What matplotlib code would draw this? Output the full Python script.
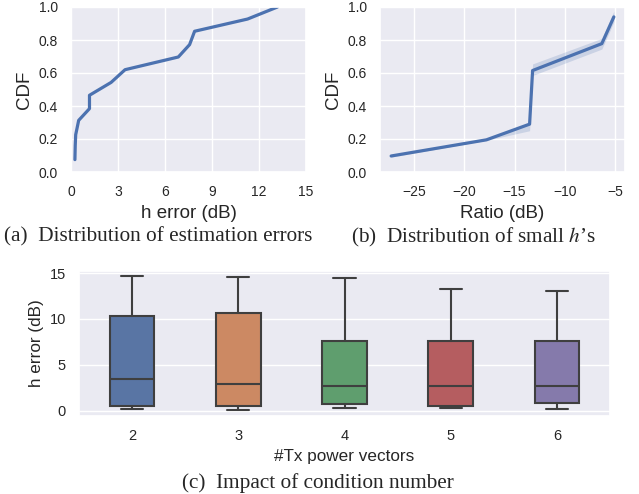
import matplotlib
matplotlib.use("Agg")
import matplotlib.pyplot as plt
import seaborn as sns

# (a) CDF of h estimation error
err_x = [0.25, 0.27, 0.3, 0.49, 1.18, 1.18, 2.56, 3.45, 6.85, 7.57, 7.89, 11.27, 13.18]
err_cdf = [0.075, 0.16, 0.226, 0.313, 0.384, 0.465, 0.543, 0.62, 0.697, 0.772, 0.853, 0.927, 1.0]

# (b) CDF of small h ratio, with confidence band
ratio_x = [-27.3, -17.8, -13.5, -13.2, -6.3, -5.1]
ratio_cdf = [0.097, 0.195, 0.29, 0.615, 0.778, 0.94]
ratio_lo = [0.09, 0.192, 0.25, 0.585, 0.745, 0.91]
ratio_hi = [0.105, 0.198, 0.30, 0.655, 0.81, 0.975]

# (c) box plot summaries per number of Tx power vectors
n_vectors = ["2", "3", "4", "5", "6"]
whis_lo = [0.18, 0.04, 0.29, 0.29, 0.18]
q1 = [0.51, 0.51, 0.69, 0.47, 0.80]
medians = [3.41, 2.86, 2.68, 2.68, 2.68]
q3 = [10.33, 10.69, 7.61, 7.64, 7.64]
whis_hi = [14.67, 14.6, 14.49, 13.26, 13.0]
box_colors = ["#5975a4", "#cc8963", "#5f9e6e", "#b55d60", "#857aab"]

sns.set_theme(style="darkgrid")
plt.rcParams["font.family"] = ["Liberation Sans", "DejaVu Sans"]
plt.rcParams["mathtext.fontset"] = "stix"

fig = plt.figure(figsize=(6.39, 4.94), dpi=100)
W, H = 639.0, 494.0


def px_axes(left, top, right, bottom):
    return fig.add_axes([left / W, 1 - bottom / H, (right - left) / W, (bottom - top) / H])


tick_fs = 10
label_fs = 13.5
cap_font = {"family": ["Liberation Serif", "DejaVu Serif"], "size": 15.3}

# panel a
ax_a = px_axes(71, 7, 306, 172)
ax_a.plot(err_x, err_cdf, color="#4c72b0", lw=2.3)
ax_a.set_xlim(0, 15)
ax_a.set_ylim(0, 1)
ax_a.set_xticks([0, 3, 6, 9, 12, 15])
ax_a.set_yticks([0.0, 0.2, 0.4, 0.6, 0.8, 1.0])
ax_a.set_xlabel("h error (dB)", fontsize=label_fs)
ax_a.set_ylabel("CDF", fontsize=label_fs)
ax_a.tick_params(labelsize=tick_fs)

# panel b
ax_b = px_axes(380, 7, 625, 172)
ax_b.fill_between(ratio_x, ratio_lo, ratio_hi, color="#4c72b0", alpha=0.2, lw=0)
ax_b.plot(ratio_x, ratio_cdf, color="#4c72b0", lw=2.3)
ax_b.set_ylim(0, 1)
ax_b.set_xticks([-25, -20, -15, -10, -5])
ax_b.set_yticks([0.0, 0.2, 0.4, 0.6, 0.8, 1.0])
ax_b.set_xlabel("Ratio (dB)", fontsize=label_fs)
ax_b.set_ylabel("CDF", fontsize=label_fs)
ax_b.tick_params(labelsize=tick_fs)

# panel c
ax_c = px_axes(79, 271, 610, 416)
stats = []
for i, name in enumerate(n_vectors):
    stats.append({"label": name, "whislo": whis_lo[i], "q1": q1[i], "med": medians[i],
                  "q3": q3[i], "whishi": whis_hi[i], "fliers": []})
edge = "#3f3f3f"
bp = ax_c.bxp(stats, positions=range(len(n_vectors)), widths=0.42, patch_artist=True,
              showfliers=False,
              boxprops=dict(edgecolor=edge, linewidth=1.5),
              medianprops=dict(color=edge, linewidth=1.5),
              whiskerprops=dict(color=edge, linewidth=1.5),
              capprops=dict(color=edge, linewidth=1.5))
for patch, c in zip(bp["boxes"], box_colors):
    patch.set_facecolor(c)
ax_c.set_xlim(-0.5, len(n_vectors) - 0.5)
ax_c.set_ylim(-0.58, 15.22)
ax_c.set_yticks([0, 5, 10, 15])
ax_c.set_xlabel("#Tx power vectors", fontsize=12.3)
ax_c.set_ylabel("h error (dB)", fontsize=12.3)
ax_c.tick_params(labelsize=10.5)
ax_c.grid(axis="x", visible=False)

# captions
fig.text(158 / W, 1 - 237 / H, "(a)  Distribution of estimation errors", ha="center", va="center", fontdict=cap_font)
fig.text(473 / W, 1 - 237 / H, "(b)  Distribution of small $h$\u2019s", ha="center", va="center", fontdict=cap_font)
fig.text(318 / W, 1 - 483 / H, "(c)  Impact of condition number", ha="center", va="center", fontdict=cap_font)

fig.savefig("out.png", dpi=100)
